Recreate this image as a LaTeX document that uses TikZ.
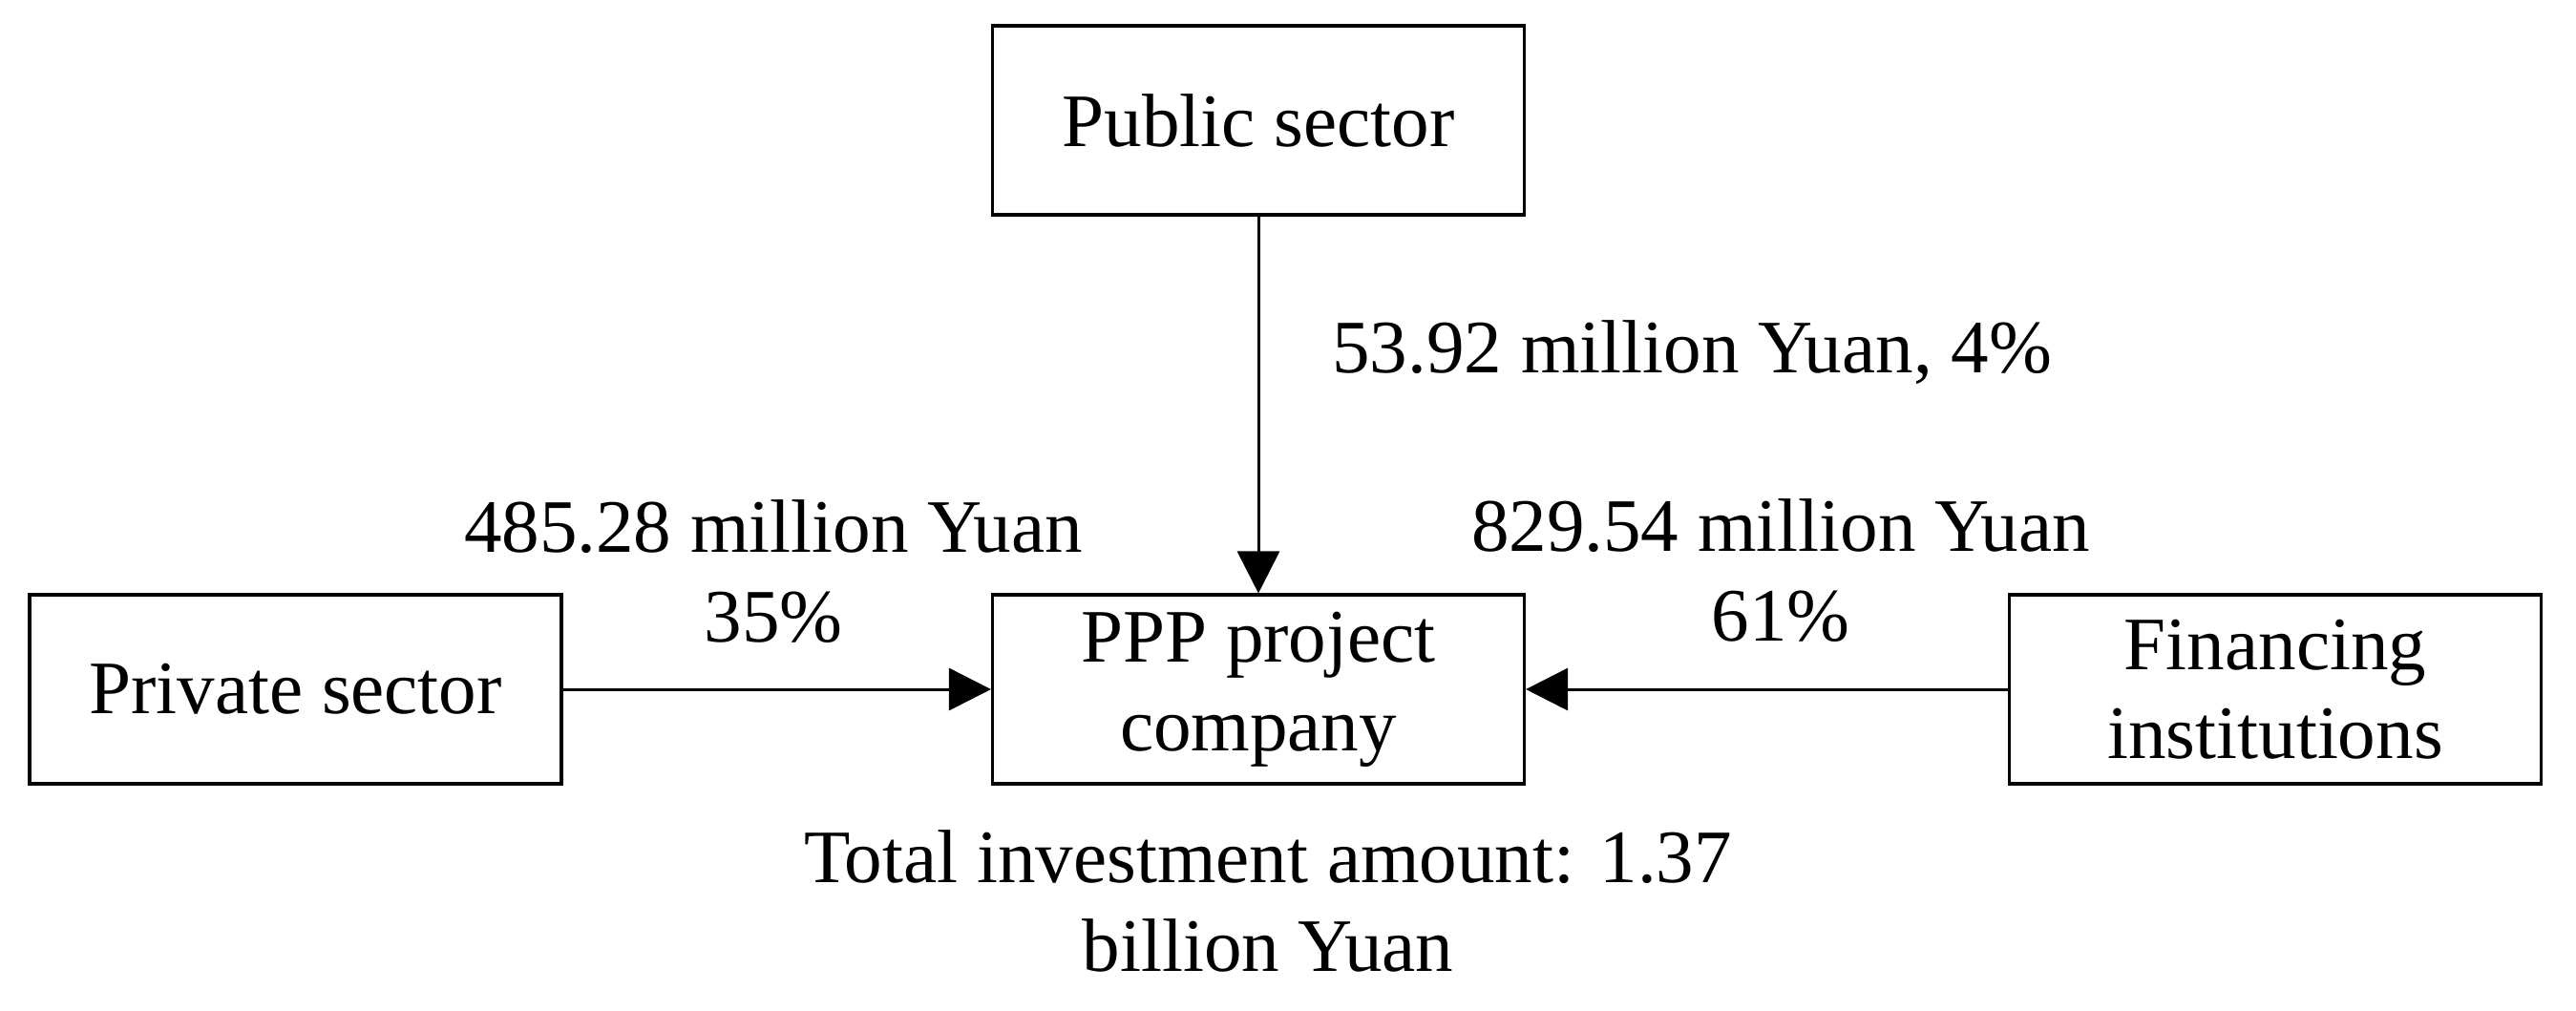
\documentclass[tikz,border=0pt]{standalone}
\usepackage{fontspec}
\setmainfont{Liberation Serif}
\usetikzlibrary{arrows.meta}
\tikzstyle{box} = [
	rectangle,
	minimum width=5.57cm,
	minimum height=1.98cm,
	text centered,
	align=center,
	draw=black,
	line width=0.9pt
]
\tikzstyle{lbl} = [align=center]
\tikzstyle{arrow} = [line width=0.85pt, -{Triangle[length=4.4mm, width=4.4mm]}]

\begin{document}
\begin{tikzpicture}[font=\fontsize{22.5pt}{26.5pt}\selectfont]
    \useasboundingbox (0, 0) rectangle (26.98, -10.58);
    \node [box] at (13.18, -1.26) (public) {Public sector};
    \node [box] at (13.18, -7.22) (project) {PPP project\\company};
    \node [box] at (3.095, -7.22) (private) {Private sector};
    \node [box] at (23.83, -7.22) (financing) {Financing\\institutions};
    \draw [arrow] (public) -- (project);
    \draw [arrow] (private) -- (project);
    \draw [arrow] (financing) -- (project);
    \node [anchor=base west] at (13.83, -3.90) (public amount) {53.92 million Yuan, 4\%};
    \node [lbl] at (8.10, -5.985) (private amount) {485.28 million Yuan\\35\%};
    \node [lbl] at (18.65, -5.975) (financing amount) {829.54 million Yuan\\61\%};
    \node [lbl] at (13.28, -9.44) (total) {Total investment amount: 1.37\\billion Yuan};
\end{tikzpicture}
\end{document}
